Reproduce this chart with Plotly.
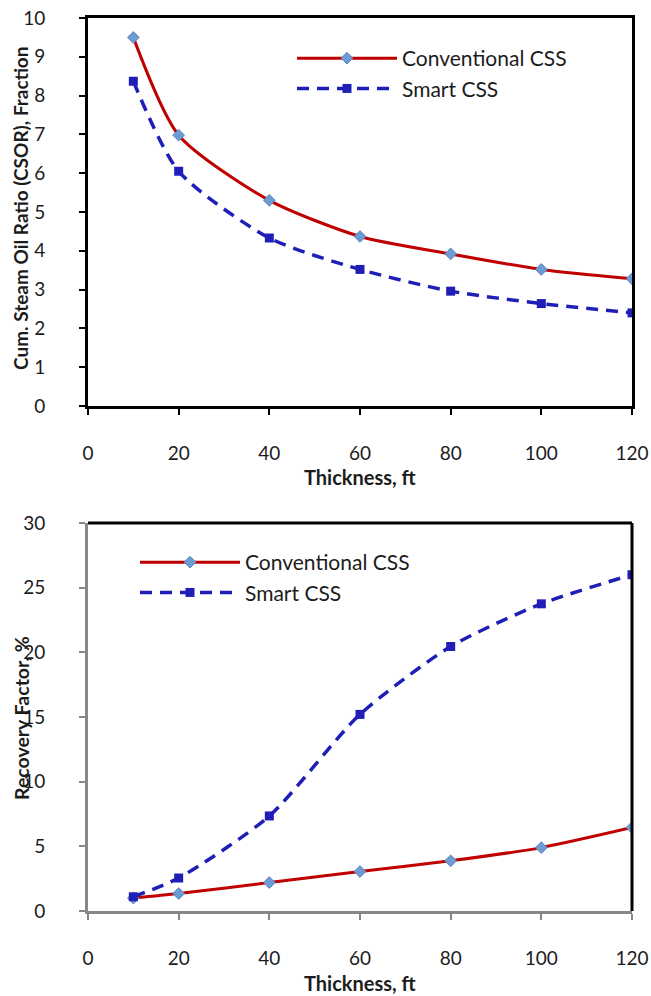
import plotly.graph_objects as go

thickness = [10, 20, 40, 60, 80, 100, 120]
csor_conventional = [9.5, 6.98, 5.3, 4.37, 3.92, 3.52, 3.28]
csor_smart = [8.37, 6.05, 4.33, 3.52, 2.96, 2.64, 2.40]
rf_conventional = [1.0, 1.35, 2.2, 3.05, 3.88, 4.9, 6.45]
rf_smart = [1.1, 2.55, 7.35, 15.2, 20.45, 23.75, 26.0]

x_ticks = [0, 20, 40, 60, 80, 100, 120]
csor_ticks = list(range(0, 11))
rf_ticks = [0, 5, 10, 15, 20, 25, 30]

FONT = "Lato"
RED = "#C00000"
BLUE = "#1F1FB8"
LIGHTBLUE = "#6E9BD2"
TXT = "#1c1c1c"

W, H = 651, 996

fig = go.Figure()

conv_style = dict(mode="lines+markers", line=dict(color=RED, width=3, shape="spline", smoothing=0.7),
                  marker=dict(symbol="diamond", size=9, color=LIGHTBLUE, line=dict(color="#5A86C0", width=1)))
smart_style = dict(mode="lines+markers", line=dict(color=BLUE, width=3.5, dash="12px,8px", shape="spline", smoothing=0.7),
                   marker=dict(symbol="square", size=9, color=BLUE))

fig.add_trace(go.Scatter(x=thickness, y=csor_conventional, name="Conventional CSS", xaxis="x", yaxis="y",
                         legend="legend", legendgroup="a", **conv_style))
fig.add_trace(go.Scatter(x=thickness, y=csor_smart, name="Smart CSS", xaxis="x", yaxis="y",
                         legend="legend", legendgroup="b", **smart_style))
fig.add_trace(go.Scatter(x=thickness, y=rf_conventional, name="Conventional CSS", xaxis="x2", yaxis="y2",
                         legend="legend2", legendgroup="c", **conv_style))
fig.add_trace(go.Scatter(x=thickness, y=rf_smart, name="Smart CSS", xaxis="x2", yaxis="y2",
                         legend="legend2", legendgroup="d", **smart_style))

xdom = [88 / W, 632 / W]
top_dom = [1 - 406 / H, 1 - 18 / H]
bot_dom = [1 - 911 / H, 1 - 523 / H]

tickfont = dict(family=FONT, size=19, color=TXT)


def xaxis(anchor, lc):
    return dict(domain=xdom, anchor=anchor, range=[0, 120], tickvals=x_ticks, ticks="outside", ticklen=6,
                tickwidth=2, tickcolor=lc, showline=True, linewidth=3, linecolor=lc, showgrid=False,
                zeroline=False, tickfont=tickfont, ticklabelstandoff=22, automargin=False)


def yaxis(anchor, dom, rng, tv, lc):
    return dict(domain=dom, anchor=anchor, range=rng, tickvals=tv, ticks="outside", ticklen=6, tickwidth=2,
                tickcolor=lc, showline=True, linewidth=3, linecolor=lc, showgrid=False, zeroline=False,
                tickfont=tickfont, ticklabelstandoff=30, automargin=False)


xa1 = xaxis("y", "black")
xa1["mirror"] = True
ya1 = yaxis("x", top_dom, [0, 10], csor_ticks, "black")
ya1["mirror"] = True
xa2 = xaxis("y2", "#878787")
ya2 = yaxis("x2", bot_dom, [0, 30], rf_ticks, "#878787")

legend_common = dict(font=dict(family=FONT, size=21, color=TXT), bgcolor="rgba(0,0,0,0)",
                     itemwidth=100, tracegroupgap=0, traceorder="grouped", xanchor="left", yanchor="top")

fig.update_layout(
    width=W, height=H, margin=dict(l=0, r=0, t=0, b=0, autoexpand=False),
    paper_bgcolor="white", plot_bgcolor="white",
    xaxis=xa1, yaxis=ya1, xaxis2=xa2, yaxis2=ya2,
    legend=dict(x=292 / W, y=1 - 38 / H, **legend_common),
    legend2=dict(x=135 / W, y=1 - 542 / H, **legend_common),
    showlegend=True,
    shapes=[
        dict(type="line", xref="x2 domain", yref="y2 domain", x0=0, x1=1, y0=1, y1=1,
             line=dict(color="black", width=3)),
        dict(type="line", xref="x2 domain", yref="y2 domain", x0=1, x1=1, y0=0, y1=1,
             line=dict(color="black", width=3)),
    ],
    annotations=[
        dict(text="<b>Cum. Steam Oil Ratio (CSOR), Fraction</b>", x=21 / W, y=1 - 208 / H, xref="paper",
             yref="paper", xanchor="center", yanchor="middle", textangle=-90, showarrow=False,
             font=dict(family=FONT, size=19, color=TXT)),
        dict(text="<b>Thickness, ft</b>", x=360 / W, y=1 - 477 / H, xref="paper", yref="paper",
             xanchor="center", yanchor="middle", showarrow=False, font=dict(family=FONT, size=20, color=TXT)),
        dict(text="<b>Recovery Factor, %</b>", x=21 / W, y=1 - 718 / H, xref="paper",
             yref="paper", xanchor="center", yanchor="middle", textangle=-90, showarrow=False,
             font=dict(family=FONT, size=19.5, color=TXT)),
        dict(text="<b>Thickness, ft</b>", x=360 / W, y=1 - 983 / H, xref="paper", yref="paper",
             xanchor="center", yanchor="middle", showarrow=False, font=dict(family=FONT, size=20, color=TXT)),
    ],
)

fig.write_html("out.html")
